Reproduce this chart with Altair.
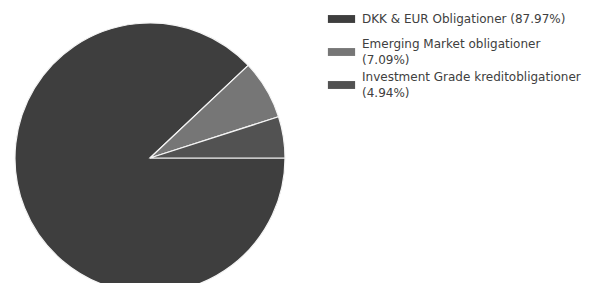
import altair as alt
import pandas as pd

categories = ["DKK & EUR Obligationer (87.97%)",
              "Emerging Market obligationer|(7.09%)",
              "Investment Grade kreditobligationer|(4.94%)"]
shares = [87.97, 7.09, 4.94]
order = [1, 2, 3]
colors = ["#3e3e3e", "#767676", "#525252"]

df = pd.DataFrame({"cat": categories, "share": shares, "order": order})

color = alt.Color("cat:N", scale=alt.Scale(domain=categories, range=colors), legend=None)

base = alt.Chart(df)

pie = base.mark_arc(stroke="#f4f4f4", strokeWidth=1.2, outerRadius=135).encode(
    theta=alt.Theta("share:Q", stack=True,
                    scale=alt.Scale(range=[1.5707963, 1.5707963 + 6.2831853])),
    order=alt.Order("order:Q"),
    x=alt.value(142),
    y=alt.value(150),
    color=color,
)

ypos = alt.Y("cat:N", axis=None, sort=categories,
             scale=alt.Scale(type="point", domain=categories, range=[11, 77], padding=0))

symbols = base.mark_point(shape="M-1,-0.29L1,-0.29L1,0.29L-1,0.29Z", filled=True,
                          opacity=1, size=740, strokeWidth=0).encode(
    x=alt.value(333.5),
    y=ypos,
    color=color,
)

textbase = base.transform_calculate(
    parts="split(datum.cat, '|')"
).transform_calculate(
    line1="datum.parts[0]",
    line2="length(datum.parts) > 1 ? datum.parts[1] : ''",
    nlines="length(datum.parts)",
)

tstyle = dict(align="left", baseline="middle", font="DejaVu Sans", fontSize=12, color="#404040")

single = textbase.transform_filter("datum.nlines == 1").mark_text(**tstyle).encode(
    x=alt.value(354), y=ypos, text="line1:N")
first = textbase.transform_filter("datum.nlines == 2").mark_text(dy=-8, **tstyle).encode(
    x=alt.value(354), y=ypos, text="line1:N")
second = textbase.transform_filter("datum.nlines == 2").mark_text(dy=8, **tstyle).encode(
    x=alt.value(354), y=ypos, text="line2:N")

chart = alt.layer(pie, symbols, single, first, second).properties(
    width=579, height=275, autosize="none", padding=0
).configure_view(stroke=None)
chart.save("out.html", embed_options={"renderer": "svg", "actions": False})
